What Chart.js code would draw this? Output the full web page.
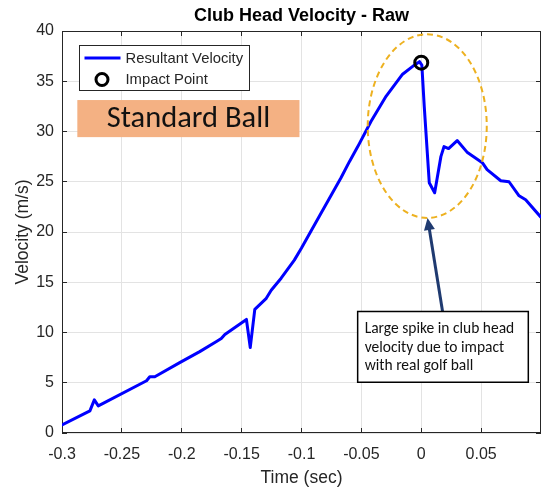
<!DOCTYPE html>
<html><head><meta charset="utf-8">
<script src="https://cdn.jsdelivr.net/npm/chart.js@4.4.0/dist/chart.umd.min.js"></script>
<style>html,body{margin:0;padding:0;background:#fff;}#wrap{width:543px;height:490px;}</style>
</head><body><div id="wrap"><canvas id="c" width="543" height="490"></canvas></div>
<script>
// ---- data ----
const timeSec = [-0.300,-0.2767,-0.2730,-0.2697,-0.2294,-0.2267,-0.2225,-0.2017,-0.185,-0.171,-0.167,-0.164,-0.146,-0.1428,-0.139,-0.1294,-0.1253,-0.117,-0.106,-0.100,-0.085,-0.067,-0.060,-0.053,-0.042,-0.0294,-0.0156,-0.0058,-0.0015,0.0005,0.0025,0.0067,0.0112,0.0164,0.019,0.0228,0.030,0.0386,0.051,0.055,0.0664,0.0733,0.0817,0.0872,0.0997];
const velocity = [0.8,2.2,3.3,2.7,5.2,5.6,5.6,7.0,8.1,9.1,9.4,9.8,11.3,8.5,12.3,13.4,14.2,15.4,17.2,18.4,21.6,25.4,27.0,28.5,31.0,33.5,35.7,36.6,36.95,36.6,32.5,24.9,23.9,27.5,28.5,28.3,29.1,27.9,26.9,26.2,25.1,25.0,23.6,23.2,21.5];
const impactTime = [0];
const impactVelocity = [36.85];
const xTickValues = [-0.3,-0.25,-0.2,-0.15,-0.1,-0.05,0,0.05];
const xTickLabels = ['-0.3','-0.25','-0.2','-0.15','-0.1','-0.05','0','0.05'];
const yTickValues = [0,5,10,15,20,25,30,35,40];
const yTickLabels = ['0','5','10','15','20','25','30','35','40'];
const seriesNames = ['Resultant Velocity','Impact Point'];
const chartTitle = 'Club Head Velocity - Raw';
const xAxisTitle = 'Time (sec)';
const yAxisTitle = 'Velocity (m/s)';
const badgeText = 'Standard Ball';
const calloutLines = ['Large spike in club head','velocity due to impact','with real golf ball'];

// ---- annotation placement (data units) ----
const annot = {
  ellipse: {cx:0.005, cy:30.54, rx:0.0497, ry:9.14},
  badge: {x0:-0.2872, x1:-0.1017, y0:33.13, y1:29.44},
  callout: {x0:-0.0531, x1:0.0894, y0:12.09, y1:5.05},
  arrow: {x0:0.0178, y0:12.09, x1:0.00525, y1:21.4},
  legend: {x0:-0.2858, x1:-0.1439, y0:38.6, y1:34.13}
};

const INK = '#262626';
const CAL = '"Carlito", "Lato", sans-serif';
const ARIAL = '"Liberation Sans", Arial, sans-serif';

const overlay = {
  id: 'overlay',
  beforeDatasetsDraw(chart) {
    const {ctx, chartArea: a, scales: {x, y}} = chart;
    ctx.save();
    ctx.strokeStyle = INK; ctx.lineWidth = 1;
    ctx.beginPath();
    xTickValues.forEach(v => {
      const px = Math.round(x.getPixelForValue(v) - 0.5) + 0.5;
      ctx.moveTo(px, a.bottom); ctx.lineTo(px, a.bottom - 5);
      ctx.moveTo(px, a.top); ctx.lineTo(px, a.top + 5);
    });
    yTickValues.forEach(v => {
      const py = Math.round(y.getPixelForValue(v) - 0.5) + 0.5;
      ctx.moveTo(a.left, py); ctx.lineTo(a.left + 5, py);
      ctx.moveTo(a.right, py); ctx.lineTo(a.right - 5, py);
    });
    ctx.stroke();
    ctx.strokeRect(Math.round(a.left) + 0.5, Math.round(a.top) + 0.5, Math.round(a.right - a.left) - 1, Math.round(a.bottom - a.top) - 1);
    ctx.restore();
  },
  afterDatasetsDraw(chart) {
    const {ctx, chartArea: a, scales: {x, y}} = chart;
    const X = v => x.getPixelForValue(v), Y = v => y.getPixelForValue(v);
    ctx.save();
    // ellipse
    const e = annot.ellipse;
    ctx.beginPath();
    ctx.ellipse(X(e.cx), Y(e.cy), X(e.cx + e.rx) - X(e.cx), Y(e.cy) - Y(e.cy + e.ry), 0, 0, Math.PI * 2);
    ctx.strokeStyle = '#EDB120'; ctx.lineWidth = 2; ctx.setLineDash([6, 4]);
    ctx.stroke();
    ctx.setLineDash([]);
    // arrow
    const ar = annot.arrow;
    const ax0 = X(ar.x0), ay0 = Y(ar.y0), ax1 = X(ar.x1), ay1 = Y(ar.y1);
    const ang = Math.atan2(ay1 - ay0, ax1 - ax0);
    const hl = 12, hw = 5.5;
    const bx = ax1 - hl * Math.cos(ang), by = ay1 - hl * Math.sin(ang);
    ctx.strokeStyle = '#1F3A70'; ctx.fillStyle = '#1F3A70'; ctx.lineWidth = 3;
    ctx.beginPath(); ctx.moveTo(ax0, ay0); ctx.lineTo(bx + 2 * Math.cos(ang), by + 2 * Math.sin(ang)); ctx.stroke();
    ctx.beginPath();
    ctx.moveTo(ax1, ay1);
    ctx.lineTo(bx + hw * Math.sin(ang), by - hw * Math.cos(ang));
    ctx.lineTo(bx - hw * Math.sin(ang), by + hw * Math.cos(ang));
    ctx.closePath(); ctx.fill();
    // callout box
    const c = annot.callout;
    const cx0 = X(c.x0), cy0 = Y(c.y0), cx1 = X(c.x1), cy1 = Y(c.y1);
    ctx.fillStyle = '#fff'; ctx.fillRect(cx0, cy0, cx1 - cx0, cy1 - cy0);
    ctx.strokeStyle = '#000'; ctx.lineWidth = 1.5; ctx.strokeRect(cx0, cy0, cx1 - cx0, cy1 - cy0);
    ctx.fillStyle = '#111'; ctx.font = '15.5px ' + CAL; ctx.textBaseline = 'middle'; ctx.textAlign = 'left';
    calloutLines.forEach((t, i) => ctx.fillText(t, cx0 + 7, cy0 + 17.5 + i * 18.8));
    // badge
    const b = annot.badge;
    const bx0 = X(b.x0), by0 = Y(b.y0), bx1 = X(b.x1), by1 = Y(b.y1);
    ctx.fillStyle = '#F4B183'; ctx.fillRect(bx0, by0, bx1 - bx0, by1 - by0);
    ctx.fillStyle = '#111'; ctx.font = '30.5px ' + CAL; ctx.textAlign = 'center';
    ctx.fillText(badgeText, (bx0 + bx1) / 2, (by0 + by1) / 2 + 1);
    // legend
    const l = annot.legend;
    const lx0 = Math.round(X(l.x0)) + 0.5, ly0 = Math.round(Y(l.y0)) + 0.5, lx1 = Math.round(X(l.x1)) + 0.5, ly1 = Math.round(Y(l.y1)) + 0.5;
    ctx.fillStyle = '#fff'; ctx.fillRect(lx0, ly0, lx1 - lx0, ly1 - ly0);
    ctx.strokeStyle = INK; ctx.lineWidth = 1; ctx.strokeRect(lx0, ly0, lx1 - lx0, ly1 - ly0);
    ctx.strokeStyle = '#0000FF'; ctx.lineWidth = 3;
    ctx.beginPath(); ctx.moveTo(lx0 + 5, ly0 + 12.5); ctx.lineTo(lx0 + 41, ly0 + 12.5); ctx.stroke();
    ctx.strokeStyle = '#000'; ctx.lineWidth = 3;
    ctx.beginPath(); ctx.arc(lx0 + 22.5, ly0 + 34, 6, 0, Math.PI * 2); ctx.stroke();
    ctx.fillStyle = INK; ctx.font = '14.8px ' + ARIAL; ctx.textAlign = 'left'; ctx.textBaseline = 'middle';
    ctx.fillText(seriesNames[0], lx0 + 46, ly0 + 13);
    ctx.fillText(seriesNames[1], lx0 + 46, ly0 + 34);
    // title
    ctx.fillStyle = '#000'; ctx.font = 'bold 18px ' + ARIAL; ctx.textAlign = 'center';
    ctx.fillText(chartTitle, (a.left + a.right) / 2, 16);
    ctx.restore();
  }
};

new Chart(document.getElementById('c'), {
  type: 'line',
  data: {
    datasets: [
      {
        label: seriesNames[1],
        data: impactTime.map((t, i) => ({x: t, y: impactVelocity[i]})),
        showLine: false, pointRadius: 6.5, pointHoverRadius: 6.5, pointBorderWidth: 3,
        borderColor: '#000', backgroundColor: 'rgba(0,0,0,0)', pointBackgroundColor: 'rgba(0,0,0,0)', order: 0
      },
      {
        label: seriesNames[0],
        data: timeSec.map((t, i) => ({x: t, y: velocity[i]})),
        borderColor: '#0000FF', borderWidth: 3, pointRadius: 0, tension: 0, fill: false, order: 1,
        borderJoinStyle: 'round', borderCapStyle: 'round'
      }
    ]
  },
  options: {
    responsive: false, animation: false, events: [],
    layout: {autoPadding: false, padding: {top: 31, right: 2, left: 0, bottom: 0}},
    plugins: {legend: {display: false}, title: {display: false}, tooltip: {enabled: false}},
    scales: {
      x: {
        type: 'linear', min: -0.3, max: 0.1,
        afterBuildTicks: s => { s.ticks = xTickValues.map(v => ({value: v})); },
        afterFit: s => { s.height = 57; s.paddingLeft = 0; s.paddingRight = 0; },
        ticks: {callback: v => xTickLabels[xTickValues.indexOf(v)], color: INK, font: {size: 16, family: ARIAL}, padding: 12, maxRotation: 0, autoSkip: false},
        grid: {color: '#e3e3e3', drawTicks: false},
        border: {display: false},
        title: {display: true, text: xAxisTitle, color: INK, font: {size: 17.5, family: ARIAL}, padding: {top: 0, bottom: 1.5}}
      },
      y: {
        type: 'linear', min: 0, max: 40,
        afterBuildTicks: s => { s.ticks = yTickValues.map(v => ({value: v})); },
        afterFit: s => { s.width = 62; s.paddingTop = 0; s.paddingBottom = 0; },
        ticks: {callback: v => yTickLabels[yTickValues.indexOf(v)], color: INK, font: {size: 16, family: ARIAL}, padding: 8, autoSkip: false},
        grid: {color: '#e3e3e3', drawTicks: false},
        border: {display: false},
        title: {display: true, text: yAxisTitle, color: INK, font: {size: 17.5, family: ARIAL}, padding: {top: 12.5, bottom: 0}}
      }
    }
  },
  plugins: [overlay]
});
</script>
</body></html>
